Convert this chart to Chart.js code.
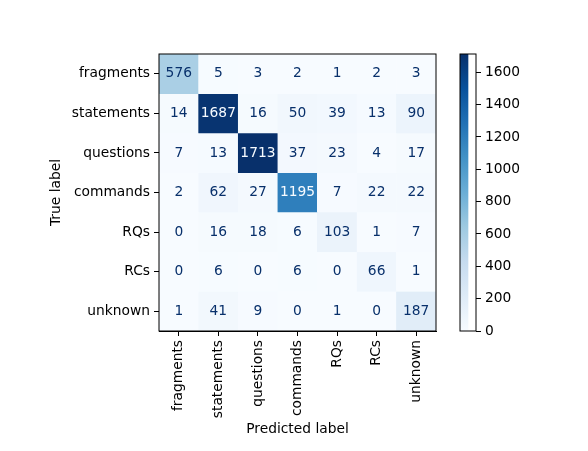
<!DOCTYPE html>
<html>
<head>
<meta charset="utf-8">
<script src="https://cdn.jsdelivr.net/npm/chart.js@4/dist/chart.umd.min.js"></script>
<style>
  body { margin: 0; background: #fff; }
  #wrap { position: relative; width: 588px; height: 451px; }
  #wrap canvas { position: absolute; left: 0; top: 0; }
</style>
</head>
<body>
<div id="wrap">
  <canvas id="matrix" width="588" height="451"></canvas>
  <canvas id="cbar" width="588" height="451"></canvas>
</div>
<script>
// labels on both axes
const trueLabels = ["fragments", "statements", "questions", "commands", "RQs", "RCs", "unknown"];
const predLabels = ["fragments", "statements", "questions", "commands", "RQs", "RCs", "unknown"];

// confusion matrix rows (true label), one array per row
const rowFragments = [576, 5, 3, 2, 1, 2, 3];
const rowStatements = [14, 1687, 16, 50, 39, 13, 90];
const rowQuestions = [7, 13, 1713, 37, 23, 4, 17];
const rowCommands = [2, 62, 27, 1195, 7, 22, 22];
const rowRQs = [0, 16, 18, 6, 103, 1, 7];
const rowRCs = [0, 6, 0, 6, 0, 66, 1];
const rowUnknown = [1, 41, 9, 0, 1, 0, 187];
const rows = [rowFragments, rowStatements, rowQuestions, rowCommands, rowRQs, rowRCs, rowUnknown];

const colorbarTicks = [0, 200, 400, 600, 800, 1000, 1200, 1400, 1600];

// matplotlib "Blues"
const blues = ["#f7fbff", "#deebf7", "#c6dbef", "#9ecae1", "#6baed6", "#4292c6", "#2171b5", "#08519c", "#08306b"];
const hex = (h) => [1, 3, 5].map((i) => parseInt(h.substr(i, 2), 16));
function cmap(t) {
  t = Math.min(1, Math.max(0, t));
  const pos = t * (blues.length - 1);
  const i = Math.min(Math.floor(pos), blues.length - 2);
  const f = pos - i;
  const a = hex(blues[i]);
  const b = hex(blues[i + 1]);
  const c = a.map((v, k) => Math.round(v + (b[k] - v) * f));
  return `rgb(${c[0]},${c[1]},${c[2]})`;
}

const allValues = rows.flat();
const vmin = Math.min(...allValues);
const vmax = Math.max(...allValues);
const thresh = (vmax + vmin) / 2;

const font = { family: "DejaVu Sans", size: 13.8 };

const datasets = rows.map((row, i) => ({
  label: trueLabels[i],
  data: row.map(() => [i - 0.5, i + 0.5]),
  backgroundColor: row.map((v) => cmap((v - vmin) / (vmax - vmin))),
  borderColor: row.map((v) => cmap((v - vmin) / (vmax - vmin))),
  borderWidth: 0.5,
  borderSkipped: false,
  grouped: false,
  barPercentage: 1,
  categoryPercentage: 1,
}));

const cellText = {
  id: "cellText",
  afterDatasetsDraw(chart) {
    const { ctx, scales } = chart;
    ctx.save();
    ctx.font = "13.8px 'DejaVu Sans'";
    ctx.textAlign = "center";
    ctx.textBaseline = "middle";
    rows.forEach((row, i) => {
      row.forEach((v, j) => {
        ctx.fillStyle = v < thresh ? cmap(1) : cmap(0);
        ctx.fillText(String(v), scales.x.getPixelForValue(j), scales.y.getPixelForValue(i));
      });
    });
    const a = chart.chartArea;
    ctx.strokeStyle = "#000";
    ctx.lineWidth = 1;
    ctx.strokeRect(a.left, a.top, a.right - a.left, a.bottom - a.top);
    ctx.restore();
  },
};

new Chart(document.getElementById("matrix"), {
  type: "bar",
  data: { labels: predLabels, datasets },
  options: {
    responsive: false,
    animation: false,
    layout: { padding: { left: 48, top: 54, right: 152, bottom: 10 } },
    plugins: { legend: { display: false }, tooltip: { enabled: false } },
    scales: {
      x: {
        type: "category",
        offset: true,
        grid: { display: true, drawOnChartArea: false, drawTicks: true, tickLength: 5, color: "#000", offset: false },
        border: { display: true, color: "#000" },
        ticks: { color: "#000", font, minRotation: 90, maxRotation: 90, padding: 4, autoSkip: false },
        title: { display: true, text: "Predicted label", color: "#000", font, padding: { top: 0, bottom: 3 } },
        afterFit: (s) => { s.height = 110; },
      },
      y: {
        type: "linear",
        min: -0.5,
        max: 6.5,
        reverse: true,
        afterBuildTicks: (s) => { s.ticks = trueLabels.map((_, i) => ({ value: i })); },
        grid: { display: true, drawOnChartArea: false, drawTicks: true, tickLength: 5, color: "#000" },
        border: { display: true, color: "#000" },
        ticks: { color: "#000", font, padding: 4, callback: (v) => trueLabels[v] },
        title: { display: true, text: "True label", color: "#000", font, padding: { top: 0, bottom: 0 } },
        afterFit: (s) => { s.width = 111; },
      },
    },
  },
  plugins: [cellText],
});

// colorbar
const cbarBox = {
  id: "cbarBox",
  afterDatasetsDraw(chart) {
    const { ctx, chartArea: a } = chart;
    ctx.save();
    ctx.strokeStyle = "#000";
    ctx.lineWidth = 1;
    ctx.strokeRect(a.left, a.top, a.right - a.left, a.bottom - a.top);
    ctx.restore();
  },
};

new Chart(document.getElementById("cbar"), {
  type: "bar",
  data: {
    labels: [""],
    datasets: [{
      data: [[vmin, vmax]],
      barPercentage: 1,
      categoryPercentage: 1,
      borderWidth: 0,
      backgroundColor: (c) => {
        const a = c.chart.chartArea;
        if (!a) return blues[4];
        const g = c.chart.ctx.createLinearGradient(0, a.bottom, 0, a.top);
        blues.forEach((col, i) => g.addColorStop(i / (blues.length - 1), col));
        return g;
      },
    }],
  },
  options: {
    responsive: false,
    animation: false,
    layout: { padding: { left: 460, top: 54, right: 52, bottom: 120 } },
    plugins: { legend: { display: false }, tooltip: { enabled: false } },
    scales: {
      x: { display: false, offset: false },
      y: {
        position: "right",
        min: vmin,
        max: vmax,
        afterBuildTicks: (s) => { s.ticks = colorbarTicks.map((v) => ({ value: v })); },
        grid: { display: true, drawOnChartArea: false, drawTicks: true, tickLength: 5, color: "#000" },
        border: { display: false },
        ticks: { color: "#000", font, padding: 4, callback: (v) => String(v) },
        afterFit: (s) => { s.width = 60; },
      },
    },
  },
  plugins: [cbarBox],
});
</script>
</body>
</html>
